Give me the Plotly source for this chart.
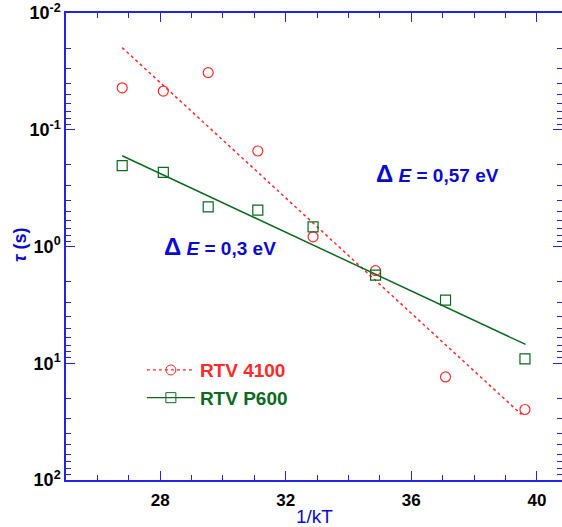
import plotly.graph_objects as go

# 1/kT positions of the measurements
inv_kt = [26.79, 28.10, 29.53, 31.11, 32.87, 34.86, 37.09, 39.62]

# tau (s)
tau_4100 = [0.0437, 0.0466, 0.0324, 0.152, 0.826, 1.61, 13.1, 24.9]
tau_p600 = [0.203, 0.232, 0.457, 0.488, 0.678, 1.76, 2.88, 9.16]

# Arrhenius fit lines (end points)
fit_x_4100 = [26.79, 39.51]
fit_4100 = [0.0198, 27.5]
fit_x_p600 = [26.79, 39.64]
fit_p600 = [0.167, 6.9]

ytick_vals = [0.01, 0.1, 1, 10, 100]
ytick_text = ["10<sup>-2</sup>", "10<sup>-1</sup>", "10<sup>0</sup>", "10<sup>1</sup>", "10<sup>2</sup>"]
xtick_vals = [28, 32, 36, 40]

RED = "#ff2a2a"
GREEN = "#0b6a1f"
BLUE = "#2424e0"
TXT_BLUE = "#0a0ad0"
FONT = "Arial, Liberation Sans, sans-serif"

fig = go.Figure()

# fit lines
fig.add_trace(go.Scatter(x=fit_x_4100, y=fit_4100, mode="lines",
                         line=dict(color=RED, width=1.5, dash="dot"), showlegend=False))
fig.add_trace(go.Scatter(x=fit_x_p600, y=fit_p600, mode="lines",
                         line=dict(color=GREEN, width=1.5), showlegend=False))

# data points
fig.add_trace(go.Scatter(x=inv_kt, y=tau_4100, mode="markers", showlegend=False,
                         marker=dict(symbol="circle-open", size=10, color=RED, line=dict(width=1.2))))
fig.add_trace(go.Scatter(x=inv_kt, y=tau_p600, mode="markers", showlegend=False,
                         marker=dict(symbol="square-open", size=10, color=GREEN, line=dict(width=1.2))))

# legend entries (line + marker)
fig.add_trace(go.Scatter(x=[None], y=[None], mode="lines+markers",
                         name="<b><span style='color:%s'>RTV 4100</span></b>" % RED,
                         line=dict(color=RED, width=1.2, dash="dot"),
                         marker=dict(symbol="circle-open", size=10, color=RED)))
fig.add_trace(go.Scatter(x=[None], y=[None], mode="lines+markers",
                         name="<b><span style='color:%s'>RTV P600</span></b>" % GREEN,
                         line=dict(color=GREEN, width=1.2),
                         marker=dict(symbol="square-open", size=10, color=GREEN)))

fig.update_layout(
    width=562, height=527,
    margin=dict(l=66, r=0, t=13, b=47),
    plot_bgcolor="white", paper_bgcolor="white",
    font=dict(family=FONT),
    showlegend=True,
    legend=dict(x=0.153, y=0.276, xanchor="left", yanchor="top",
                bgcolor="rgba(0,0,0,0)", itemwidth=48, tracegroupgap=5,
                font=dict(size=19, family=FONT)),
)
fig.update_xaxes(
    range=[25, 40.8], tickvals=xtick_vals, ticks="inside", ticklen=9, tickcolor=BLUE,
    showline=True, linecolor=BLUE, linewidth=1.5, mirror="ticks", showgrid=False, zeroline=False,
    automargin=False, ticklabelstandoff=4,
    tickfont=dict(size=17, color="black", family=FONT, weight="bold"),
    minor=dict(dtick=1, tick0=25, ticks="inside", ticklen=5, tickcolor=BLUE, showgrid=False),
)
minor_y = [m * 10 ** k for k in range(-2, 2) for m in range(2, 10)]
fig.update_yaxes(
    type="log", range=[2, -2], tickvals=ytick_vals, ticktext=ytick_text,
    ticks="inside", ticklen=9, tickcolor=BLUE,
    showline=True, linecolor=BLUE, linewidth=1.5, mirror="ticks", showgrid=False, zeroline=False,
    automargin=False,
    tickfont=dict(size=18, color="black", family=FONT, weight="bold"),
    minor=dict(tickvals=minor_y, ticks="inside", ticklen=5, tickcolor=BLUE, showgrid=False),
)

fig.add_annotation(xref="paper", yref="paper", x=-0.093, y=0.503, showarrow=False, textangle=-90,
                   xanchor="center", yanchor="middle",
                   text="<i>τ</i> (s)", font=dict(size=18, color=TXT_BLUE, family=FONT, weight="bold"))
fig.add_annotation(xref="paper", yref="paper", x=0.5, y=-0.079, showarrow=False,
                   xanchor="center", yanchor="middle",
                   text="1/kT", font=dict(size=19, color=TXT_BLUE, family=FONT))
fig.add_annotation(xref="paper", yref="paper", x=0.31, y=0.501, showarrow=False,
                   xanchor="center", yanchor="middle",
                   text="<span style='font-size:24px'>Δ</span> <i>E</i> = 0,3 eV",
                   font=dict(size=19, color=TXT_BLUE, family=FONT, weight="bold"))
fig.add_annotation(xref="paper", yref="paper", x=0.748, y=0.657, showarrow=False,
                   xanchor="center", yanchor="middle",
                   text="<span style='font-size:24px'>Δ</span> <i>E</i> = 0,57 eV",
                   font=dict(size=19, color=TXT_BLUE, family=FONT, weight="bold"))

# drop the default page margin so the figure sits at the window's corner
fig.write_html("out.html", config={"displayModeBar": False},
               post_script="document.body.style.margin='0';")
